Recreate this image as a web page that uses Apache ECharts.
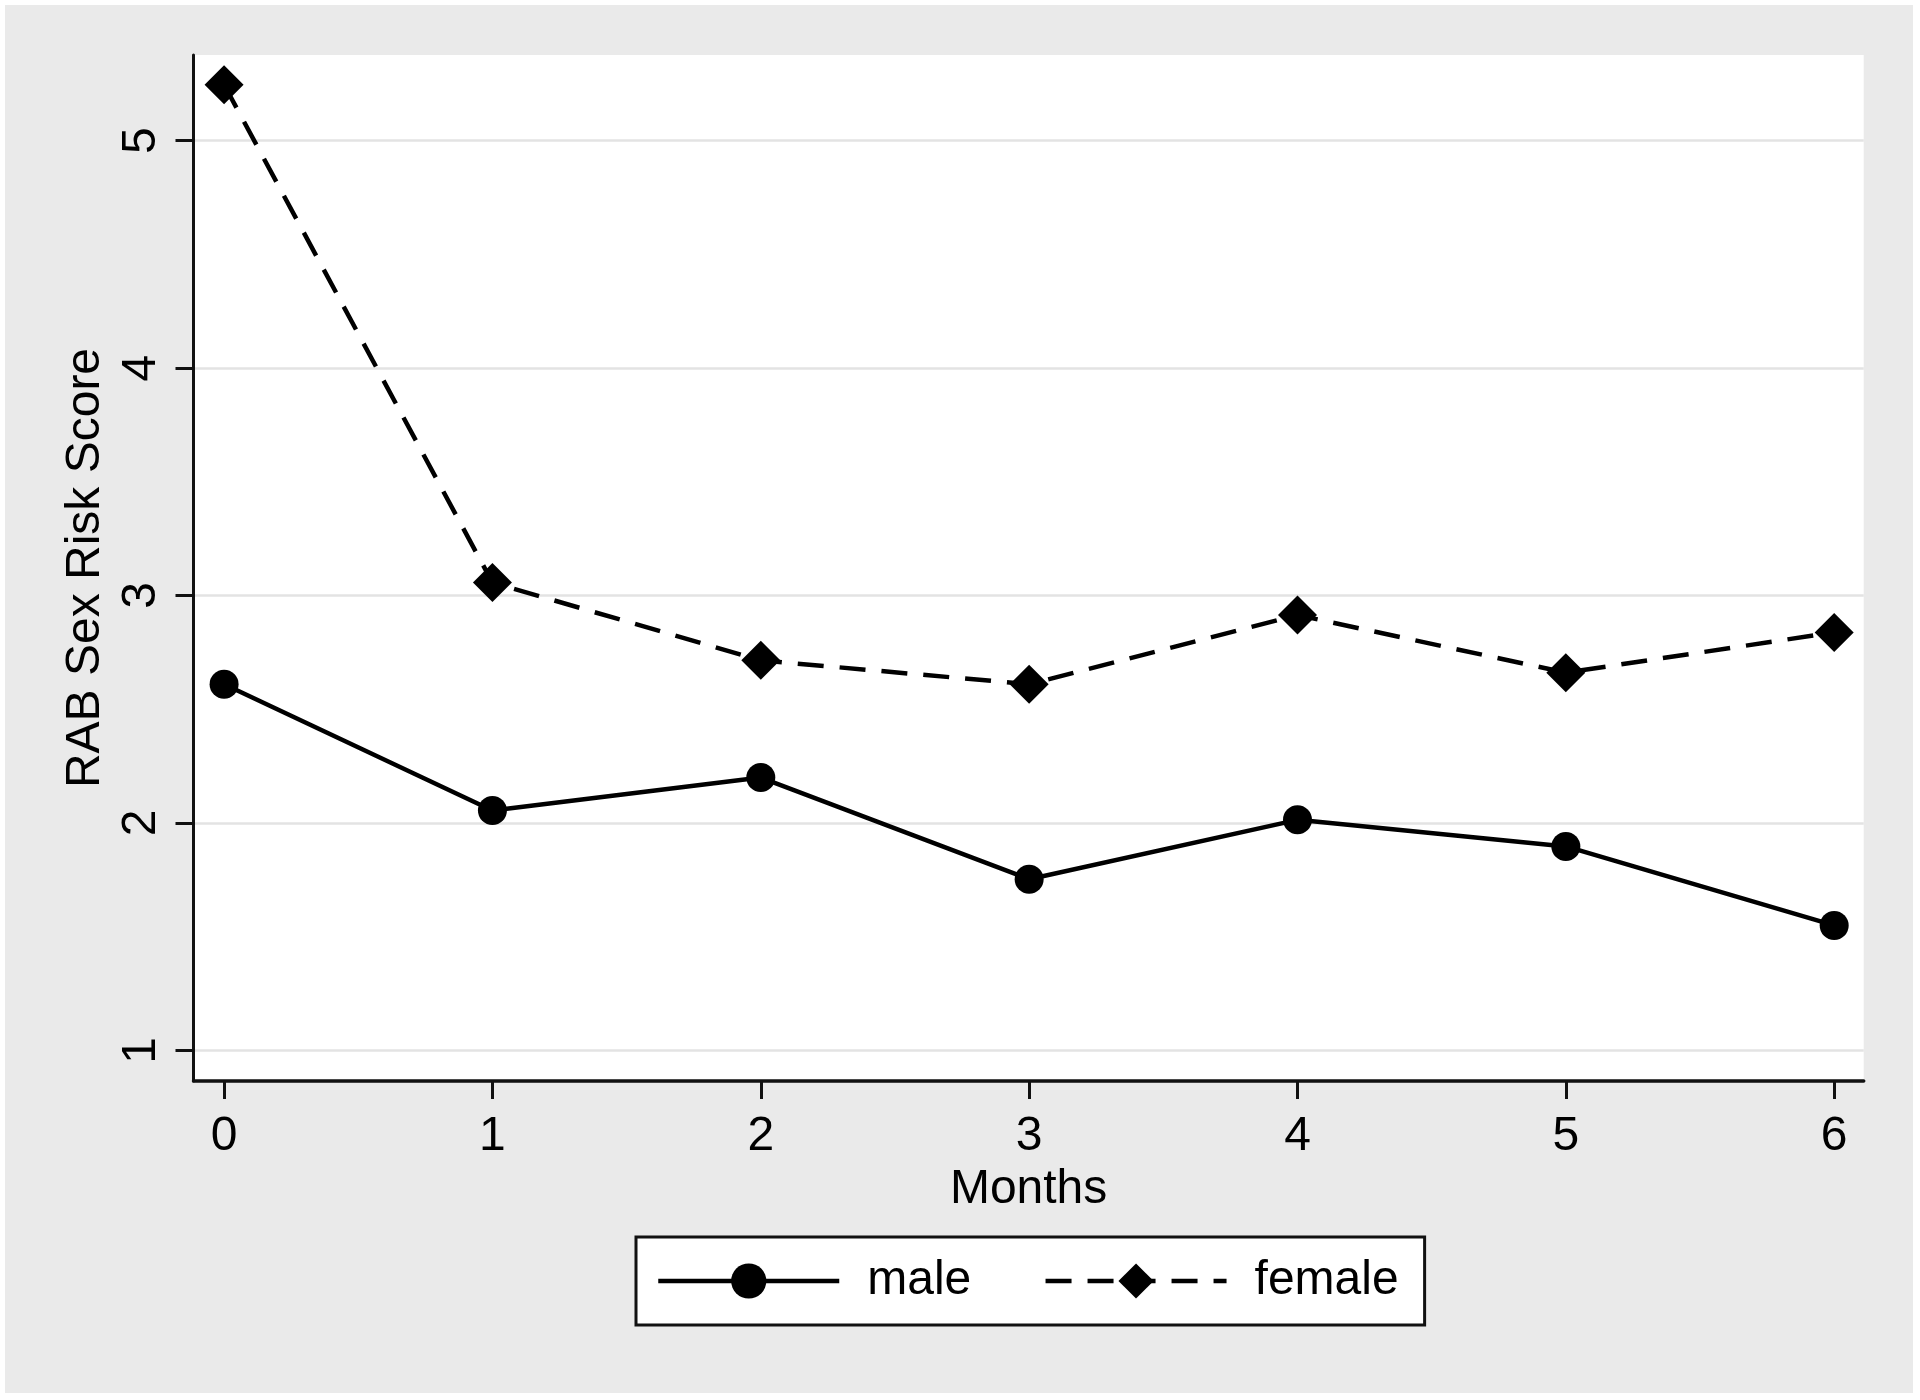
<!DOCTYPE html>
<html>
<head>
<meta charset="utf-8">
<script src="https://cdn.jsdelivr.net/npm/echarts@6/dist/echarts.min.js"></script>
<style>
  html, body { margin: 0; padding: 0; background: #ffffff; }
  #chart { width: 1920px; height: 1400px; }
</style>
</head>
<body>
<div id="chart"></div>
<script>
// ---- data ----
const months = [0, 1, 2, 3, 4, 5, 6];
const maleScores = [2.61, 2.055, 2.20, 1.753, 2.014, 1.897, 1.55];
const femaleScores = [5.245, 3.057, 2.715, 2.61, 2.914, 2.661, 2.838];
const xTickValues = [0, 1, 2, 3, 4, 5, 6];
const yTickValues = [1, 2, 3, 4, 5];
const seriesNames = ['male', 'female'];
const xTitle = 'Months';
const yTitle = 'RAB Sex Risk Score';

const FONT = '"Liberation Sans", Arial, Helvetica, sans-serif';

function pairs(xs, ys) { return xs.map((x, i) => [x, ys[i]]); }

const chart = echarts.init(document.getElementById('chart'), null, { renderer: 'canvas' });

const option = {
  animation: false,
  backgroundColor: '#ffffff',
  graphic: [{
    type: 'rect',
    left: 5, top: 5, z: -10,
    shape: { width: 1908, height: 1388 },
    style: { fill: '#eaeaea' },
    silent: true
  }],
  grid: {
    left: 193.5, right: 56.3, top: 55, bottom: 319,
    show: true, backgroundColor: '#ffffff', borderWidth: 0
  },
  xAxis: {
    type: 'value',
    min: -0.114, max: 6.11,
    name: xTitle,
    nameLocation: 'middle',
    nameGap: 80,
    nameTextStyle: { fontSize: 48, color: '#000', fontFamily: FONT },
    axisLine: { show: true, onZero: false, lineStyle: { color: '#111', width: 3.5 } },
    axisTick: { show: true, length: 18, lineStyle: { color: '#111', width: 3 }, customValues: xTickValues },
    axisLabel: { show: true, fontSize: 48, color: '#000', fontFamily: FONT, margin: 32, customValues: xTickValues },
    splitLine: { show: false }
  },
  yAxis: {
    type: 'value',
    min: 0.866, max: 5.376,
    name: yTitle,
    nameLocation: 'middle',
    nameGap: 82,
    nameTextStyle: { fontSize: 48, color: '#000', fontFamily: FONT },
    axisLine: { show: true, onZero: false, lineStyle: { color: '#111', width: 3 } },
    axisTick: { show: true, length: 18, lineStyle: { color: '#111', width: 3 }, customValues: yTickValues },
    axisLabel: { show: true, rotate: 90, fontSize: 48, color: '#000', fontFamily: FONT, margin: 28, customValues: yTickValues },
    splitLine: { show: true, lineStyle: { color: '#e3e3e3', width: 2.5 } }
  },
  legend: {
    left: 636, top: 1237,
    orient: 'horizontal',
    padding: [20, 26, 20, 20],
    backgroundColor: '#ffffff',
    borderColor: '#111',
    borderWidth: 3,
    itemWidth: 181,
    itemHeight: 44,
    itemGap: 72,
    lineStyle: { width: 4.5 },
    textStyle: { fontSize: 48, color: '#000', fontFamily: FONT, padding: [0, 0, 0, 23] },
    data: seriesNames
  },
  series: [
    {
      name: seriesNames[0],
      type: 'line',
      data: pairs(months, maleScores),
      symbol: 'circle',
      symbolSize: 29,
      lineStyle: { color: '#000', width: 4.5, type: 'solid' },
      itemStyle: { color: '#000' },
      z: 3
    },
    {
      name: seriesNames[1],
      type: 'line',
      data: pairs(months, femaleScores),
      symbol: 'diamond',
      symbolSize: 39,
      lineStyle: { color: '#000', width: 4.5, type: [26, 16] },
      itemStyle: { color: '#000' },
      z: 3
    }
  ]
};

chart.setOption(option);
</script>
</body>
</html>
